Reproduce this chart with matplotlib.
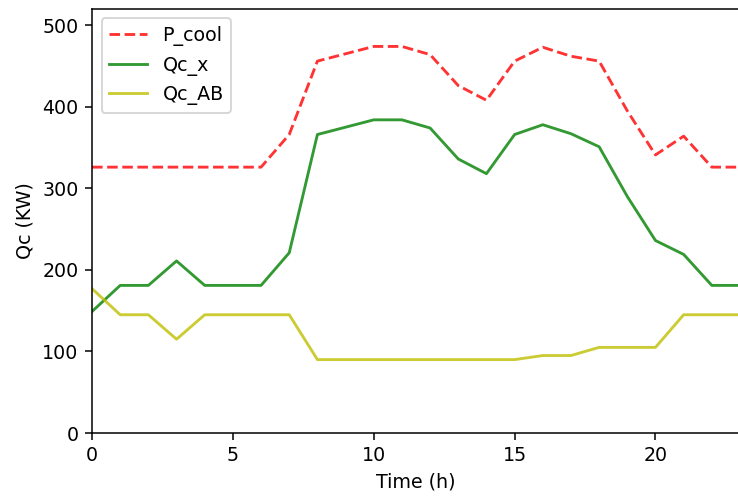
import matplotlib
matplotlib.use("Agg")
import matplotlib.pyplot as plt

hours = list(range(24))
qc_x = [149, 181, 181, 211, 181, 181, 181, 221, 366, 375, 384, 384,
        374, 336, 318, 366, 378, 367, 351, 290, 236, 219, 181, 181]
qc_ab = [177, 145, 145, 115, 145, 145, 145, 145, 90, 90, 90, 90,
         90, 90, 90, 90, 95, 95, 105, 105, 105, 145, 145, 145]
p_cool = [326, 326, 326, 326, 326, 326, 326, 366, 456, 465, 474, 474,
          464, 426, 408, 456, 473, 462, 456, 395, 341, 364, 326, 326]

DPI = 137
fig = plt.figure(figsize=(738 / DPI, 496 / DPI), dpi=DPI)
ax = fig.add_axes([0.1247, 0.127, 0.878, 0.855])

ax.plot(hours, p_cool, 'r--', alpha=0.8, label='P_cool')
ax.plot(hours, qc_x, 'g', alpha=0.8, label='Qc_x')
ax.plot(hours, qc_ab, 'y', alpha=0.8, label='Qc_AB')

ax.set_xlim(0, 23)
ax.set_ylim(0, 520)
ax.set_xlabel('Time (h)')
ax.set_ylabel('Qc (KW)')
ax.legend(loc='upper left')

fig.savefig('out.png', dpi=DPI)
